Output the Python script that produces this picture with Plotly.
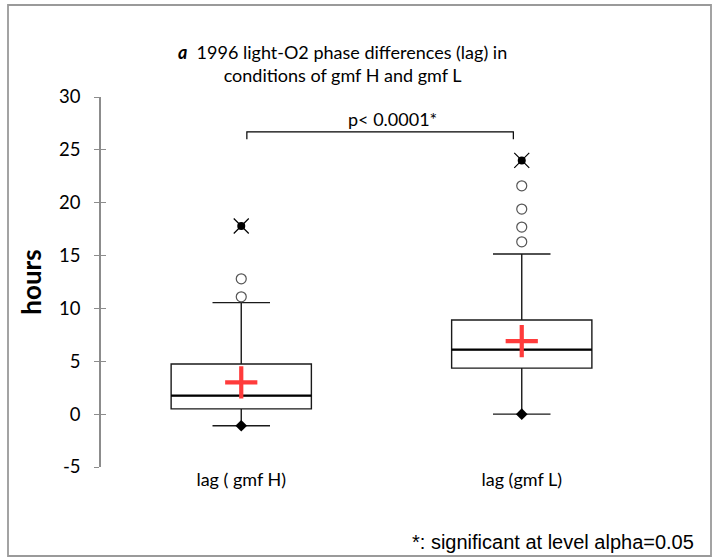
import plotly.graph_objects as go

# ---- data ----
categories = ["lag ( gmf H)", "lag (gmf L)"]
q1 = [0.5, 4.35]
median = [1.75, 6.1]
q3 = [4.75, 8.9]
lower_whisker = [-1.1, 0.0]
upper_whisker = [10.55, 15.15]
means = [3.0, 6.9]
minimum = [-1.1, 0.0]
maximum = [17.8, 24.0]
outliers_h = [11.1, 12.8]
outliers_l = [16.3, 17.7, 19.4, 21.6]
p_text = "p< 0.0001*"
bracket_level = 26.7
bracket_drop = 26.0
y_ticks = [-5, 0, 5, 10, 15, 20, 25, 30]
y_tick_text = ["-5", "0", "5", "10", "15", "20", "25", "30"]

xpos = [0, 1]
half = 0.25

fig = go.Figure()

for i in range(2):
    fig.add_trace(go.Box(
        x=[xpos[i]], q1=[q1[i]], median=[median[i]], q3=[q3[i]],
        lowerfence=[lower_whisker[i]], upperfence=[upper_whisker[i]],
        width=0.5, whiskerwidth=0.41, fillcolor="rgba(0,0,0,0)",
        line=dict(color="#1a1a1a", width=1.4), boxpoints=False,
        showlegend=False, hoverinfo="skip"))
    # thicker median line
    fig.add_trace(go.Scatter(
        x=[xpos[i] - half, xpos[i] + half], y=[median[i], median[i]],
        mode="lines", line=dict(color="black", width=2.4),
        showlegend=False, hoverinfo="skip"))

# outliers
fig.add_trace(go.Scatter(
    x=[xpos[0]] * len(outliers_h) + [xpos[1]] * len(outliers_l),
    y=outliers_h + outliers_l, mode="markers",
    marker=dict(symbol="circle-open", size=10, color="#555555", line=dict(width=1.2)),
    showlegend=False))

# minimum diamonds
fig.add_trace(go.Scatter(
    x=xpos, y=minimum, mode="markers",
    marker=dict(symbol="diamond", size=9, color="black"), showlegend=False))

# maximum star markers
fig.add_trace(go.Scatter(
    x=xpos, y=maximum, mode="markers",
    marker=dict(symbol="x-thin", size=15, color="black", line=dict(width=1.2, color="black")),
    showlegend=False))
fig.add_trace(go.Scatter(
    x=xpos, y=maximum, mode="markers",
    marker=dict(symbol="circle", size=8, color="black"), showlegend=False))

# means
fig.add_trace(go.Scatter(
    x=xpos, y=means, mode="markers",
    marker=dict(symbol="cross-thin", size=23, color="#ff3b3b", line=dict(width=4.2, color="#ff3b3b")),
    showlegend=False))

# significance bracket
bx0, bx1 = xpos[0] + 0.02, xpos[1] - 0.03
fig.add_trace(go.Scatter(
    x=[bx0, bx0, bx1, bx1], y=[bracket_drop, bracket_level, bracket_level, bracket_drop],
    mode="lines", line=dict(color="black", width=1.2), showlegend=False, hoverinfo="skip"))
fig.add_annotation(x=(xpos[0] + xpos[1]) / 2 + 0.04, y=bracket_level, text=p_text,
                   showarrow=False, yanchor="bottom", yshift=0,
                   font=dict(family="Lato", size=18, color="black"))

# invisible trace to activate yaxis2 (inner half of crossing ticks)
fig.add_trace(go.Scatter(x=[xpos[0]], y=[0], yaxis="y2", mode="markers",
                         marker=dict(opacity=0), showlegend=False, hoverinfo="skip"))

fig.update_layout(
    width=712, height=557,
    margin=dict(l=101, r=50, t=97, b=90),
    paper_bgcolor="white", plot_bgcolor="white",
    font=dict(family="Lato", size=16, color="black"),
    xaxis=dict(range=[-0.5, 1.5], tickvals=xpos, ticktext=categories,
               showline=False, showgrid=False, zeroline=False, ticks="",
               tickfont=dict(family="Lato", size=18, color="black")),
    yaxis=dict(range=[-5, 30], tickvals=y_ticks, ticktext=y_tick_text,
               showgrid=False, zeroline=False,
               showline=True, linecolor="#8c8c8c", linewidth=1.5,
               ticks="outside", ticklen=5, tickcolor="#8c8c8c", tickwidth=1.3,
               ticklabelstandoff=10,
               tickfont=dict(family="Lato", size=18.5, color="black"),
               title=dict(text="<b>hours</b>", font=dict(family="Lato", size=26, color="black"),
                          standoff=10)),
    yaxis2=dict(range=[-5, 30], tickvals=y_ticks, overlaying="y", side="left",
                showgrid=False, zeroline=False, showline=False, showticklabels=False,
                ticks="inside", ticklen=5, tickcolor="#8c8c8c", tickwidth=1.3),
    showlegend=False,
)

# title
fig.add_annotation(xref="paper", yref="paper", x=0.43, y=1.0, yshift=58,
                   text="<b><i>a</i></b>  1996 light-O2 phase differences (lag) in<br>conditions of gmf H and gmf L",
                   showarrow=False, xanchor="center", yanchor="top", align="center",
                   font=dict(family="Lato", size=18, color="black"))

# footnote
fig.add_annotation(xref="paper", yref="paper", x=1.0, y=0, xshift=34, yshift=-62,
                   text="*: significant at level alpha=0.05", showarrow=False,
                   xanchor="right", yanchor="top",
                   font=dict(family="Liberation Sans", size=20, color="black"))

# outer frame
fig.add_shape(type="rect", xref="paper", yref="paper",
              x0=-93 / 561, x1=(711 - 101) / 561, y0=-(556 - 467) / 370, y1=(467 - 5) / 370,
              line=dict(color="#9a9a9a", width=1.8), fillcolor="rgba(0,0,0,0)")

fig.write_html("out.html")
